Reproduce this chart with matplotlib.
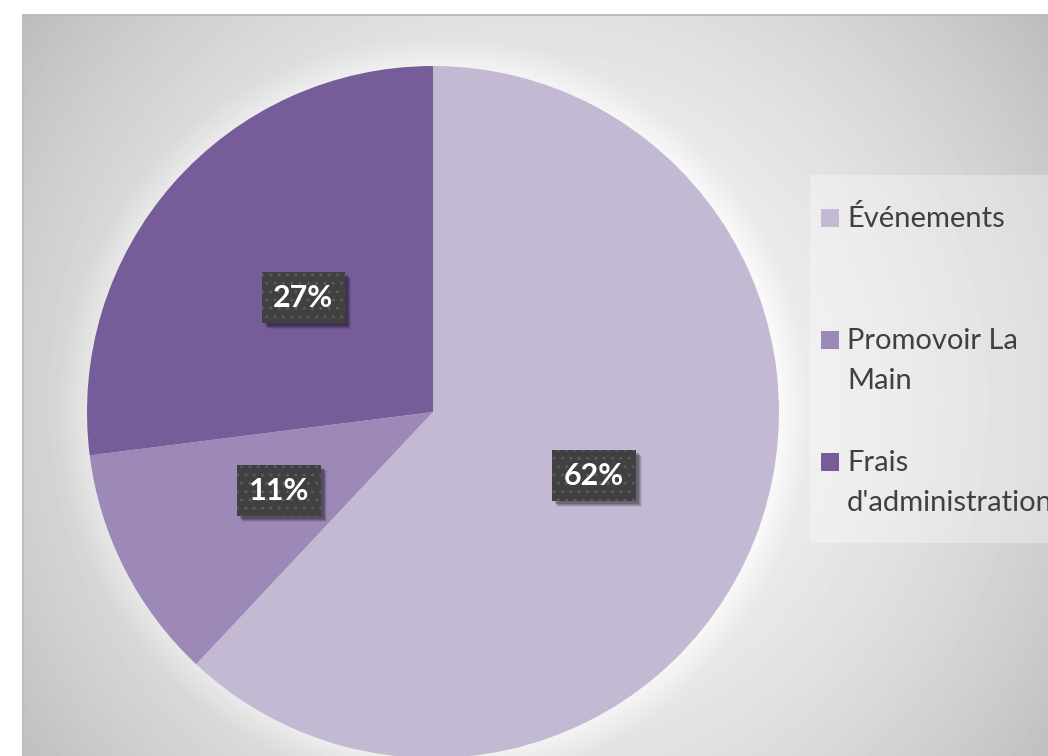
import numpy as np
import matplotlib.pyplot as plt
from matplotlib.patches import Rectangle
from matplotlib.transforms import IdentityTransform

# budget split
categories = ['Événements', 'Promovoir La Main', "Frais d'administration"]
legend_lines = [['Événements'], ['Promovoir La', 'Main'], ['Frais', "d'administration"]]
shares = [62, 11, 27]
colors = ['#C3B9D2', '#9D89B7', '#765C98']

W, H = 1048, 756
fig = plt.figure(figsize=(W / 100, H / 100), dpi=100)

# grey radial backdrop with a soft light halo round the pie
cx, cy, R = 433, 412, 346
yy, xx = np.mgrid[0:H, 0:W]
d = np.hypot(xx - 535, yy - 400) / 623
shade = 0.96 - 0.21 * d ** 2
dp = np.hypot(xx - cx, yy - cy)
shade = shade + np.clip(1 - (dp - R) / 30, 0, 1) * 0.05
legend_zone = (xx >= 810) & (yy >= 175) & (yy <= 542)
shade[legend_zone] += (1 - shade[legend_zone]) * 0.3
shade = np.clip(shade, 0, 1)
shade[14:16, 22:] = 0.74
shade[14:, 22:24] = 0.74
shade[:14, :] = 1
shade[:, :22] = 1

bg = fig.add_axes([0, 0, 1, 1])
bg.imshow(shade, cmap='gray', vmin=0, vmax=1, interpolation='none', aspect='auto')
bg.axis('off')

ax = fig.add_axes([(cx - R) / W, (H - cy - R) / H, 2 * R / W, 2 * R / H])
wedges, texts, autotexts = ax.pie(shares, colors=colors, startangle=90, counterclock=False,
                                  autopct=lambda p: f'{p:.0f}%', pctdistance=0.5,
                                  wedgeprops=dict(linewidth=0))
ax.set_xlim(-1, 1)
ax.set_ylim(-1, 1)

for t in autotexts:
    t.set(color='white', zorder=4, family='Lato', fontsize=22, fontweight='bold')
    t.set_bbox(dict(boxstyle='square,pad=0.38', fc='#404040', ec='#5A5A5A', lw=0, hatch='..'))

# drop shadow behind each label box, above the wedges
fig.canvas.draw()
for t in autotexts:
    ext = t.get_bbox_patch().get_window_extent()
    for k, a in ((6, 0.08), (5, 0.12), (4, 0.16), (3, 0.18)):
        ax.add_artist(Rectangle((ext.x0 + k, ext.y0 - k), ext.width, ext.height,
                                transform=IdentityTransform(), fc='black', ec='none',
                                alpha=a, zorder=3))

# legend drawn by hand so the swatch sits on the first text line
for i, (lines, col) in enumerate(zip(legend_lines, colors)):
    base = 227 + 122 * i
    fig.patches.append(Rectangle((821 / W, 1 - base / H), 18 / W, 18 / H,
                                 transform=fig.transFigure, fc=col, ec='none'))
    for j, line in enumerate(lines):
        fig.text(847 / W, 1 - (base + 40 * j) / H, line, family='Lato', fontsize=21,
                 color='#404040', va='baseline', ha='left')

fig.savefig('out.png', dpi=100)
